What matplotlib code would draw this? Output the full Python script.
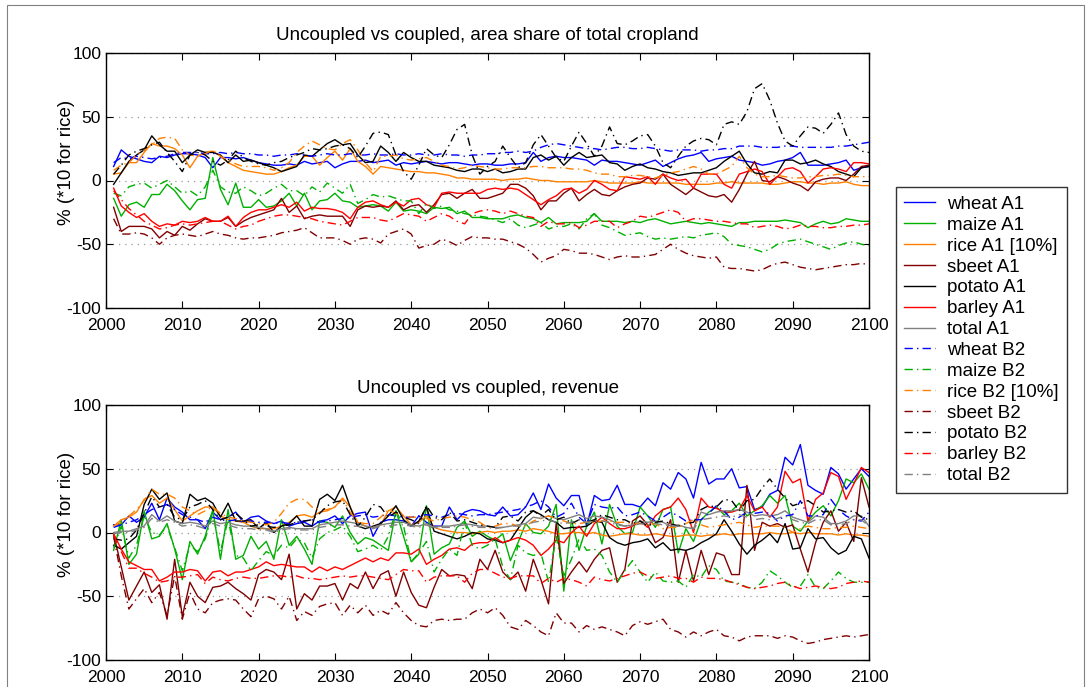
# Uncoupled vs coupled comparison, area share and revenue (A1 / B2)
import numpy as np
import matplotlib
matplotlib.use("Agg")
import matplotlib.pyplot as plt
from matplotlib.patches import Rectangle

plt.rcParams['font.family'] = ['Liberation Sans', 'DejaVu Sans']
plt.rcParams['axes.unicode_minus'] = False

years = np.arange(2001, 2101)

crops = ["wheat", "maize", "rice", "sbeet", "potato", "barley", "total"]
label_suffix = {"rice": " [10%]"}
crop_colors = {"wheat": "#0000ff", "maize": "#00b000", "rice": "#ff8000",
               "sbeet": "#800000", "potato": "#000000", "barley": "#ff0000",
               "total": "#808080"}

# ---- area share of total cropland (%) ----
area_wheat_a1 = [11, 24, 19, 17, 15, 14, 19, 18, 20, 21,
                 21, 20, 18, 10, 18, 18, 17, 18, 16, 14,
                 13, 12, 12, 13, 12, 15, 13, 14, 15, 10,
                 13, 15, 15, 16, 14, 15, 16, 12, 14, 13,
                 14, 15, 14, 13, 14, 14, 13, 12, 13, 13,
                 12, 12, 13, 13, 14, 22, 15, 18, 19, 18,
                 18, 17, 16, 12, 16, 15, 15, 14, 13, 12,
                 14, 16, 11, 14, 17, 19, 20, 22, 15, 17,
                 18, 19, 16, 15, 14, 12, 13, 15, 16, 18,
                 22, 12, 12, 12, 13, 14, 16, 8, 10, 11]
area_wheat_b2 = [14, 18, 17, 19, 18, 17, 18, 19, 21, 22,
                 22, 22, 21, 21, 22, 21, 22, 21, 21, 20,
                 20, 19, 20, 20, 21, 20, 19, 20, 21, 20,
                 20, 21, 20, 20, 21, 20, 20, 21, 20, 20,
                 21, 20, 20, 21, 20, 20, 19, 20, 20, 21,
                 21, 22, 22, 23, 22, 23, 26, 28, 29, 28,
                 27, 26, 25, 25, 24, 25, 26, 26, 25, 25,
                 26, 25, 24, 23, 24, 24, 24, 23, 24, 24,
                 25, 25, 27, 27, 27, 26, 26, 26, 27, 27,
                 26, 26, 26, 26, 26, 27, 27, 28, 29, 30]
area_maize_a1 = [-14, -28, -19, -17, -21, -11, -11, -3, -8, -16,
                 -23, -15, -14, 18, -7, -19, -2, -21, -21, -15,
                 -21, -20, -16, -10, -20, -10, -23, -16, -15, -10,
                 -16, -17, -21, -20, -19, -20, -24, -17, -24, -23,
                 -24, -26, -21, -22, -21, -26, -24, -29, -29, -30,
                 -30, -30, -28, -27, -29, -30, -33, -29, -34, -33,
                 -33, -33, -32, -26, -32, -32, -32, -33, -32, -33,
                 -31, -30, -32, -34, -33, -32, -33, -34, -33, -34,
                 -35, -36, -33, -33, -32, -32, -32, -32, -31, -32,
                 -33, -37, -34, -32, -34, -33, -30, -31, -32, -32]
area_maize_b2 = [-10, -12, -5, -3, -2, -6, -3, 0, -5, -10,
                 -8, -12, -5, 8, -5, -9, -10, -5, -8, -12,
                 -10, -6, -3, -8, -8, -12, -5, -9, -2, -6,
                 -10, -3, -18, -15, -11, -13, -12, -14, -16, -16,
                 -26, -18, -22, -20, -23, -24, -26, -27, -28, -29,
                 -31, -33, -30, -35, -37, -35, -33, -38, -36, -36,
                 -34, -38, -30, -26, -35, -37, -40, -43, -42, -41,
                 -44, -46, -45, -46, -45, -44, -45, -43, -42, -41,
                 -44, -50, -51, -52, -54, -56, -54, -50, -48, -47,
                 -46, -48, -50, -52, -54, -51, -49, -48, -50, -51]
area_rice_a1 = [5, 6, 14, 14, 22, 29, 27, 27, 25, 20,
                10, 19, 22, 23, 19, 14, 11, 8, 7, 6,
                5, 5, 7, 10, 12, 19, 19, 12, 18, 23,
                16, 25, 15, 11, 5, 11, 10, 9, 8, 7,
                7, 6, 6, 5, 4, 2, 2, 1, 1, 1,
                1, 0, 1, 1, 2, 1, 0, 0, -1, -1,
                -1, -1, -1, 0, -1, -2, -2, -2, -2, -1,
                -2, -2, -2, -2, -2, -3, -3, -3, -3, -2,
                -2, -1, -2, -2, -2, -2, -3, -3, -2, -1,
                -1, -2, -2, -3, -2, -2, -1, -3, -4, -4]
area_rice_b2 = [8, 12, 14, 20, 24, 28, 33, 34, 33, 24,
                20, 19, 21, 24, 19, 16, 13, 11, 11, 11,
                10, 8, 10, 14, 22, 27, 31, 28, 25, 24,
                29, 32, 24, 14, 7, 19, 19, 20, 17, 16,
                17, 18, 15, 12, 11, 9, 10, 12, 11, 10,
                9, 9, 10, 10, 10, 11, 11, 10, 10, 10,
                9, 9, 8, 6, 5, 5, 3, 3, 4, 4,
                3, 2, 4, 6, 7, 9, 11, 9, 5, 5,
                8, 11, 19, 10, 5, 3, 3, 4, 3, 2,
                2, 3, 3, 4, 4, 5, 4, 3, 3, 3]
area_sbeet_a1 = [-21, -40, -36, -36, -36, -38, -45, -40, -43, -36,
                 -39, -34, -30, -32, -32, -29, -36, -32, -29, -27,
                 -25, -23, -14, -25, -20, -30, -28, -27, -28, -28,
                 -28, -36, -23, -20, -21, -20, -21, -16, -23, -20,
                 -19, -25, -19, -11, -10, -14, -10, -7, -14, -14,
                 -12, -10, -3, -3, -6, -12, -23, -16, -16, -10,
                 -6, -16, -11, -7, -11, -12, -8, -5, -3, -2,
                 2, 1, 5, -3, -7, -11, -6, -9, -12, -13,
                 -11, -17, -7, 5, 15, 0, -1, 3, 1, -2,
                 -4, -8, -1, 1, 2, 2, 0, 5, 11, 12]
area_sbeet_b2 = [-30, -42, -42, -41, -42, -45, -50, -45, -43, -42,
                 -43, -44, -42, -40, -42, -43, -45, -46, -45, -45,
                 -44, -43, -41, -40, -39, -37, -41, -45, -45, -45,
                 -47, -50, -46, -45, -46, -49, -42, -40, -38, -42,
                 -53, -51, -50, -46, -48, -51, -47, -44, -45, -45,
                 -46, -46, -48, -50, -53, -58, -64, -61, -59, -54,
                 -55, -57, -57, -58, -60, -62, -60, -59, -60, -60,
                 -59, -58, -54, -50, -54, -57, -59, -60, -61, -60,
                 -68, -69, -69, -70, -71, -70, -67, -65, -64, -66,
                 -68, -69, -70, -69, -68, -67, -66, -66, -65, -66]
area_potato_a1 = [-3, 6, 15, 20, 24, 35, 28, 23, 23, 14,
                  20, 24, 22, 22, 20, 14, 20, 15, 16, 14,
                  12, 10, 7, 9, 11, 20, 19, 24, 29, 32,
                  28, 29, 20, 14, 15, 27, 22, 15, 22, 18,
                  15, 15, 12, 11, 10, 8, 7, 9, 9, 7,
                  9, 6, 7, 9, 9, 18, 20, 16, 19, 12,
                  18, 22, 18, 19, 20, 14, 13, 8, 11, 13,
                  10, 9, 7, 6, 4, 5, 6, 6, 8, 10,
                  15, 19, 23, 13, 6, 5, 7, 6, 16, 16,
                  13, 14, 16, 13, 11, 7, 5, 3, 10, 11]
area_potato_b2 = [5, 12, 20, 23, 25, 28, 30, 22, 15, 7,
                  20, 22, 20, 15, 12, 16, 23, 18, 15, 13,
                  12, 14, 15, 18, 20, 22, 25, 24, 25, 27,
                  28, 25, 18, 27, 37, 38, 36, 20, 7, 1,
                  12, 25, 20, 18, 28, 40, 44, 20, 5, 11,
                  15, 27, 18, 10, 14, 28, 36, 27, 18, 15,
                  27, 38, 29, 19, 27, 42, 29, 28, 31, 35,
                  36, 27, 14, 10, 19, 27, 31, 33, 32, 28,
                  44, 46, 44, 54, 72, 76, 63, 45, 31, 27,
                  35, 42, 41, 37, 44, 53, 36, 27, 23, 22]
area_barley_a1 = [-6, -20, -25, -29, -26, -32, -36, -34, -35, -32,
                  -33, -32, -29, -32, -32, -28, -36, -29, -25, -23,
                  -23, -21, -19, -21, -17, -24, -21, -22, -22, -23,
                  -25, -30, -21, -17, -16, -19, -21, -17, -20, -15,
                  -14, -19, -21, -10, -9, -10, -10, -10, -10, -7,
                  -6, -7, -6, -7, -11, -15, -19, -15, -12, -7,
                  -6, -10, -7, 0, -3, -7, -8, 3, 2, 1,
                  3, -3, 5, 2, 0, 1, -6, 5, 5, 5,
                  -3, -6, 5, 7, 9, 7, -3, 3, 9, 10,
                  7, -2, 3, 9, 10, 9, 7, 14, 14, 13]
area_barley_b2 = [-8, -15, -22, -27, -32, -35, -38, -37, -35, -34,
                  -35, -34, -33, -32, -32, -35, -38, -36, -35, -32,
                  -30, -28, -27, -27, -28, -29, -30, -32, -33, -34,
                  -35, -32, -29, -29, -29, -31, -32, -29, -26, -27,
                  -28, -32, -29, -26, -28, -32, -34, -26, -24, -23,
                  -24, -26, -24, -26, -28, -29, -36, -32, -34, -34,
                  -33, -37, -35, -32, -32, -32, -37, -34, -32, -28,
                  -29, -27, -25, -23, -25, -32, -30, -30, -31, -32,
                  -32, -33, -34, -34, -37, -36, -35, -36, -38, -37,
                  -35, -36, -36, -37, -37, -36, -36, -35, -35, -34]

# ---- revenue (%) ----
rev_wheat_a1 = [6, 6, 13, 8, 12, 23, 10, 27, 20, 16,
                10, 10, 3, 16, 10, 12, 16, 8, 12, 13,
                9, 7, 9, 5, 7, 8, 5, 9, 10, 13,
                7, 13, 15, 16, -3, 8, 10, 10, 9, 5,
                13, 8, 5, 5, 20, 10, 16, 18, 17, 14,
                13, 20, 13, 14, 20, 31, 18, 38, 27, 21,
                29, 29, 5, 29, 25, 26, 37, 22, 22, 20,
                27, 21, 39, 34, 47, 42, 27, 55, 38, 42,
                42, 50, 35, 36, 18, 20, 30, 33, 59, 53,
                69, 37, 33, 30, 51, 46, 34, 42, 50, 44]
rev_wheat_b2 = [4, 6, 8, 10, 14, 18, 20, 22, 18, 14,
                12, 10, 8, 12, 10, 9, 10, 8, 9, 8,
                8, 7, 8, 7, 8, 9, 10, 8, 9, 10,
                11, 12, 13, 14, 12, 13, 14, 13, 12, 12,
                13, 14, 13, 12, 14, 15, 14, 13, 14, 14,
                15, 16, 17, 18, 20, 22, 25, 20, 12, 15,
                23, 12, 7, 22, 20, 19, 20, 13, 14, 16,
                13, 9, 12, 16, 13, 9, 10, 10, 15, 21,
                17, 10, 12, 16, 15, 16, 15, 9, 13, 14,
                25, 13, 13, 14, 26, 18, 13, 10, 9, 16]
rev_maize_a1 = [-14, 10, -25, -17, 17, -5, -3, 7, -13, -37,
                -7, -17, -3, 18, -21, 18, -21, -18, -3, -13,
                -7, -21, 10, -10, -3, -13, -25, 9, 8, 4,
                13, 0, -9, -4, -6, -10, -14, 17, -3, -23,
                -17, 21, -17, -12, -9, 4, 9, -3, 1, -3,
                -6, -1, -22, -8, 7, 0, -1, 5, 22, -46,
                10, -14, 5, 16, -9, 22, 5, -1, 0, 20,
                13, 4, 18, 20, -16, 3, -7, 10, 16, 20,
                14, 17, 23, 13, 17, 21, 29, 23, 29, 5,
                1, 9, 16, 21, 13, 25, 42, 39, 46, 34]
rev_maize_b2 = [-12, 5, -20, -10, 13, 0, -2, 5, -12, -30,
                -10, -15, -5, 15, -15, 10, -18, -20, -30, -22,
                -15, -18, -10, -12, -5, -8, -20, -5, 0, 2,
                5, -3, -15, -13, -10, -14, -3, 17, 5, -23,
                -16, -7, -31, -21, -13, -18, 8, -10, -13, -10,
                -5, -27, -37, -10, -16, -18, -16, -39, -3, -34,
                -21, -5, -14, -13, -18, -31, -39, -30, -22, -31,
                -39, -31, -38, -39, -38, -43, -33, -35, -26, -29,
                -38, -39, -40, -43, -44, -39, -30, -34, -39, -43,
                -42, -33, -43, -44, -38, -31, -36, -39, -39, -39]
rev_rice_a1 = [5, 10, 12, 16, 26, 29, 23, 27, 18, 9,
               13, 17, 20, 20, 13, 10, 9, 8, 5, 3,
               3, 3, 5, 8, 13, 14, 12, 16, 17, 20,
               27, 20, 8, 5, 4, 6, 17, 20, 13, 6,
               8, 13, 4, 2, 1, 0, 0, -1, 0, 1,
               0, 1, 1, 2, 1, 3, 2, 1, -1, -1,
               0, 0, -1, 0, -2, -3, -2, -1, -1, -2,
               -2, -1, -2, -3, -3, -2, -2, -3, -2, -2,
               -1, -2, -1, -1, -1, -1, 0, -1, -1, 0,
               -1, 0, -1, -1, -1, -2, -1, -2, -2, -3]
rev_rice_b2 = [5, 8, 13, 18, 25, 34, 30, 30, 27, 20,
               17, 14, 17, 20, 15, 12, 11, 9, 8, 7,
               6, 8, 15, 23, 26, 26, 20, 18, 18, 20,
               26, 16, 8, 7, 7, 12, 18, 15, 13, 12,
               12, 11, 9, 11, 12, 13, 12, 10, 8, 4,
               5, 7, 7, 5, 5, 9, 11, 13, 11, 9,
               7, 7, 8, 8, 9, 9, 8, 8, 7, 7,
               6, 7, 3, 4, 4, 7, 10, 6, 4, 5,
               6, 7, 8, 6, 4, 5, 5, 5, 4, 0,
               3, 5, 4, 3, 3, 4, 4, 5, 4, 3]
rev_sbeet_a1 = [-1, -27, -53, -42, -31, -47, -41, -68, -21, -66,
                -39, -50, -55, -43, -42, -39, -44, -48, -53, -33,
                -29, -31, -37, -17, -60, -48, -53, -42, -42, -40,
                -53, -40, -44, -31, -44, -33, -30, -50, -31, -47,
                -57, -59, -43, -29, -34, -33, -34, -44, -21, -29,
                -14, -31, -37, -31, -46, -21, -37, -56, 7, -40,
                -31, -23, -31, -21, -14, -12, -39, -29, 9, 13,
                6, -8, -4, 10, -39, -14, -38, -14, -33, -16,
                -18, -33, -33, 37, -14, 8, 5, 7, 4, 6,
                -13, -31, -8, 8, 17, 1, 8, -7, 43, 20]
rev_sbeet_b2 = [-3, -34, -60, -52, -44, -55, -47, -65, -34, -68,
                -47, -60, -63, -55, -53, -52, -53, -60, -66, -52,
                -50, -52, -60, -50, -69, -62, -65, -58, -56, -55,
                -65, -57, -63, -57, -65, -61, -64, -55, -63, -69,
                -73, -74, -69, -68, -69, -68, -68, -63, -60, -63,
                -59, -65, -74, -76, -69, -73, -78, -81, -63, -71,
                -71, -78, -73, -76, -74, -76, -78, -81, -73, -70,
                -72, -70, -68, -76, -78, -82, -78, -81, -78, -76,
                -81, -82, -85, -82, -81, -81, -81, -83, -81, -82,
                -85, -87, -86, -84, -83, -82, -81, -82, -81, -80]
rev_potato_a1 = [-10, -13, -8, -3, 22, 34, 26, 31, 9, 7,
                 30, 25, 27, 23, 12, 23, 9, 9, 10, 3,
                 8, 0, 5, 7, 13, 5, 5, 26, 30, 25,
                 37, 20, 5, 3, 5, 7, 13, 21, 10, 5,
                 9, 20, 1, -1, -3, -5, -3, 0, -1, -5,
                 -6, -8, -6, 3, 12, 17, 14, 10, 8, 3,
                 4, 4, 5, 9, 8, -4, -8, -10, -8, -7,
                 -5, -12, -8, -14, -13, -14, -12, -8, -5, -1,
                 10, 1, -9, -17, -10, -6, -1, -8, 7, -13,
                 -12, 3, -5, -4, -12, -17, -14, -3, -5, -20]
rev_potato_b2 = [-5, -6, -5, 2, 15, 28, 20, 22, 12, 10,
                 20, 22, 25, 18, 10, 12, 15, 10, 5, 6,
                 5, 4, 5, 6, 8, 9, 10, 15, 21, 24,
                 25, 14, 5, 12, 22, 20, 12, 16, 12, 10,
                 7, 21, 12, 10, 16, 9, 10, 8, 6, 5,
                 4, 12, 13, 9, 16, 17, 13, 18, 10, 12,
                 7, 10, 8, 10, 14, 12, 10, 10, 7, 9,
                 5, 8, 9, 7, 5, 7, 8, 18, 21, 20,
                 26, 25, 17, 25, 26, 35, 42, 34, 27, 21,
                 23, 25, 21, 16, 17, 18, 16, 17, 12, 10]
rev_barley_a1 = [-1, -13, -23, -26, -29, -29, -38, -35, -31, -31,
                 -29, -30, -38, -31, -30, -34, -31, -31, -29, -27,
                 -23, -26, -25, -26, -27, -27, -31, -27, -30, -27,
                 -29, -26, -23, -20, -23, -20, -22, -16, -16, -17,
                 -13, -25, -21, -18, -13, -12, -14, -9, -8, -8,
                 -4, -8, -6, -4, -6, -10, -18, -13, -6, -8,
                 0, 5, -3, 7, 12, 7, 3, 3, 5, 9,
                 4, 13, 18, 20, 27, 18, 0, 27, 20, 19,
                 16, 16, 18, 29, 17, 20, 12, 20, 48, 39,
                 42, 9, 26, 31, 47, 44, 26, 38, 51, 47]
rev_barley_b2 = [-2, -15, -28, -28, -32, -35, -39, -38, -35, -35,
                 -34, -33, -40, -35, -37, -38, -36, -35, -36, -36,
                 -35, -34, -34, -35, -34, -36, -36, -37, -36, -35,
                 -34, -35, -34, -34, -35, -36, -37, -33, -29, -30,
                 -30, -39, -35, -34, -34, -34, -39, -32, -29, -29,
                 -32, -35, -36, -34, -34, -34, -40, -36, -39, -36,
                 -37, -39, -42, -35, -37, -38, -36, -34, -32, -31,
                 -34, -36, -35, -34, -36, -36, -39, -35, -36, -36,
                 -37, -39, -41, -43, -44, -43, -42, -40, -39, -42,
                 -44, -43, -42, -43, -44, -43, -40, -39, -38, -39]
rev_total_a1 = [0, 1, 1, 3, 5, 14, 9, 13, 9, 7,
                8, 7, 5, 9, 7, 8, 6, 5, 5, 4,
                3, 1, 3, 4, 3, 3, 3, 6, 7, 8,
                9, 8, 7, 5, 4, 6, 7, 8, 8, 6,
                5, 7, 4, 5, 5, 6, 7, 6, 5, 5,
                4, 4, 5, 6, 7, 12, 11, 13, 11, 10,
                12, 14, 11, 13, 12, 10, 7, 5, 6, 9,
                8, 9, 8, 5, 6, 4, 3, 16, 14, 16,
                17, 17, 18, 16, 13, 14, 13, 14, 17, 12,
                10, 8, 13, 12, 7, 7, 9, 13, 13, 5]
rev_total_b2 = [-1, 0, 0, 2, 4, 11, 8, 10, 8, 5,
                6, 5, 3, 7, 5, 6, 4, 3, 3, 2,
                2, 0, 2, 3, 2, 2, 2, 4, 5, 6,
                6, 5, 5, 4, 3, 5, 5, 6, 6, 5,
                4, 6, 3, 4, 4, 5, 6, 5, 4, 4,
                3, 4, 5, 5, 6, 8, 9, 10, 8, 7,
                8, 10, 8, 9, 9, 8, 6, 5, 5, 7,
                6, 7, 6, 5, 5, 4, 3, 10, 11, 12,
                13, 12, 14, 12, 10, 11, 10, 11, 13, 10,
                8, 7, 10, 10, 6, 6, 7, 10, 10, 5]

area = {
    "A1": {"wheat": area_wheat_a1, "maize": area_maize_a1, "rice": area_rice_a1,
           "sbeet": area_sbeet_a1, "potato": area_potato_a1, "barley": area_barley_a1},
    "B2": {"wheat": area_wheat_b2, "maize": area_maize_b2, "rice": area_rice_b2,
           "sbeet": area_sbeet_b2, "potato": area_potato_b2, "barley": area_barley_b2},
}
revenue = {
    "A1": {"wheat": rev_wheat_a1, "maize": rev_maize_a1, "rice": rev_rice_a1,
           "sbeet": rev_sbeet_a1, "potato": rev_potato_a1, "barley": rev_barley_a1,
           "total": rev_total_a1},
    "B2": {"wheat": rev_wheat_b2, "maize": rev_maize_b2, "rice": rev_rice_b2,
           "sbeet": rev_sbeet_b2, "potato": rev_potato_b2, "barley": rev_barley_b2,
           "total": rev_total_b2},
}

W, H = 1091, 687
fig = plt.figure(figsize=(W / 100, H / 100), dpi=100)
ax1 = fig.add_axes([106 / W, 1 - 308 / H, 763 / W, 255 / H])
ax2 = fig.add_axes([106 / W, 1 - 660 / H, 763 / W, 255 / H])

dashdot = (0, (6, 3, 1, 3))


def draw(ax, data, title):
    handles = []
    for scen, ls in (("A1", "-"), ("B2", dashdot)):
        for crop in crops:
            if crop not in data[scen]:
                continue
            h, = ax.plot(years, data[scen][crop], color=crop_colors[crop],
                         linestyle=ls, linewidth=1.0,
                         label="%s %s%s" % (crop, scen, label_suffix.get(crop, "")))
            handles.append(h)
    ax.set_xlim(2000, 2100)
    ax.set_ylim(-100, 100)
    ax.set_xticks(range(2000, 2101, 10))
    ax.set_yticks(range(-100, 101, 50))
    ax.yaxis.grid(True, linestyle=(0, (1, 4)), color="#999999", linewidth=0.9)
    ax.tick_params(direction="in", top=True, right=True, length=5, labelsize=12.5)
    ax.tick_params(axis="x", pad=7)
    for s in ax.spines.values():
        s.set_linewidth(1.0)
    ax.set_ylabel("% (*10 for rice)", fontsize=13.5)
    ax.yaxis.set_label_coords(-0.040, 0.57)
    ax.set_title(title, fontsize=13.5, pad=9)
    return handles


draw(ax1, area, "Uncoupled vs coupled, area share of total cropland")
handles = draw(ax2, revenue, "Uncoupled vs coupled, revenue")

# legend sits between the two panels on the right
fig.legend(handles=handles, loc="center left", bbox_to_anchor=(896 / W, 1 - 340 / H),
           borderaxespad=0, fontsize=13.5, frameon=True, fancybox=False,
           edgecolor="black", handlelength=1.65, labelspacing=0.2,
           borderpad=0.45, handletextpad=0.6)

fig.patches.append(Rectangle((7 / W, -0.01), (1084 - 7) / W, 1 - 5 / H + 0.01,
                             transform=fig.transFigure, fill=False,
                             edgecolor="#808080", linewidth=0.8))

fig.savefig("out.png", dpi=100)
plt.close(fig)
